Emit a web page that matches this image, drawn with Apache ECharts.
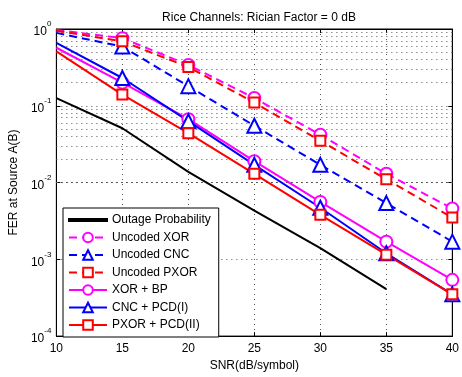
<!DOCTYPE html>
<html><head><meta charset="utf-8">
<script src="https://cdn.jsdelivr.net/npm/echarts@6/dist/echarts.min.js"></script>
<style>html,body{margin:0;padding:0;background:#fff}#c{width:462px;height:377px}</style>
</head><body><div id="c"></div>
<script>
const snr = [10, 15, 20, 25, 30, 35, 40];
const outage = [0.126, 0.051, 0.0138, 0.0043, 0.0014, 0.00041];
const uncodedXOR = [0.97, 0.76, 0.34, 0.126, 0.042, 0.013, 0.0046];
const uncodedCNC = [0.89, 0.59, 0.18, 0.055, 0.017, 0.0054, 0.0017];
const uncodedPXOR = [0.95, 0.69, 0.32, 0.11, 0.035, 0.011, 0.0035];
const xorBP = [0.57, 0.2, 0.067, 0.019, 0.0056, 0.0017, 0.00054];
const cncPCD = [0.66, 0.23, 0.063, 0.017, 0.0047, 0.0012, 0.00035];
const pxorPCD = [0.51, 0.14, 0.044, 0.013, 0.0038, 0.00115, 0.00035];
const minorGrid = [];
for (let e = -4; e < 0; e++) for (let k = 2; k <= 9; k++) minorGrid.push(k * Math.pow(10, e));

const FONT = 'Liberation Sans';
function pairs(ys) {
  return ys.map((v, i) => i === 0 ? { value: [snr[i], v], symbol: 'none' } : [snr[i], v]);
}
function mk(name, ys, color, dashed, symbol, size) {
  return {
    name, type: 'line', data: pairs(ys), symbol, symbolSize: size,
    lineStyle: { color, width: 2, type: dashed ? [8, 5] : 'solid' },
    itemStyle: { color, borderColor: color, borderWidth: 2 },
    emphasis: { disabled: true }, z: 3
  };
}
const series = [
  Object.assign(mk('Outage Probability', outage, '#000', false, 'none', 0), {
    markLine: {
      silent: true, symbol: 'none', label: { show: false },
      lineStyle: { color: '#555', width: 1, type: [1, 4] },
      data: minorGrid.map(v => ({ yAxis: v })), z: 1
    }
  }),
  mk('Uncoded XOR', uncodedXOR, '#ff00ff', true, 'emptyCircle', 12),
  mk('Uncoded CNC', uncodedCNC, '#0000ff', true, 'emptyTriangle', 14),
  mk('Uncoded PXOR', uncodedPXOR, '#ff0000', true, 'emptyRect', 10),
  mk('XOR + BP', xorBP, '#ff00ff', false, 'emptyCircle', 12),
  mk('CNC + PCD(I)', cncPCD, '#0000ff', false, 'emptyTriangle', 14),
  mk('PXOR + PCD(II)', pxorPCD, '#ff0000', false, 'emptyRect', 10)
];
const legendData = series.map(s => s.name === 'Outage Probability'
  ? { name: s.name, icon: 'path://M0,5 L38,5 L38,7.2 L0,7.2 Z', itemStyle: { color: '#000' } }
  : { name: s.name });
const chart = echarts.init(document.getElementById('c'), null, { renderer: 'canvas' });
const gridLine = { show: true, lineStyle: { color: '#555', width: 1, type: [1, 4] } };
chart.setOption({
  animation: false,
  textStyle: { fontFamily: FONT },
  title: { text: 'Rice Channels: Rician Factor = 0 dB', left: 254, top: 7, textAlign: 'center',
    textStyle: { fontSize: 12, fontWeight: 'normal', color: '#000', fontFamily: FONT } },
  grid: { left: 53, right: 7, top: 29, bottom: 32, show: true, borderColor: '#000', borderWidth: 1 },
  legend: {
    orient: 'vertical', left: 63, top: 208, itemWidth: 38, itemHeight: 12, itemGap: 5.5,
    padding: [6, 8, 6, 5], backgroundColor: '#fff', borderColor: '#000', borderWidth: 1,
    textStyle: { fontSize: 12, color: '#000', fontFamily: FONT }, z: 10,
    data: legendData
  },
  xAxis: [{
    type: 'value', min: 10, max: 40, interval: 5,
    name: 'SNR(dB/symbol)', nameLocation: 'middle', nameGap: 20,
    nameTextStyle: { fontSize: 12, color: '#000' },
    axisLine: { lineStyle: { color: '#000' } },
    axisTick: { inside: true, length: 4, lineStyle: { color: '#000' } },
    axisLabel: { fontSize: 12, color: '#000', margin: 7 },
    splitLine: gridLine
  }, {
    type: 'value', min: 10, max: 40, interval: 5, position: 'top',
    axisLine: { lineStyle: { color: '#000' } },
    axisTick: { inside: true, length: 4, lineStyle: { color: '#000' } },
    axisLabel: { show: false }, splitLine: { show: false }
  }],
  yAxis: [{
    type: 'log', min: 1e-4, max: 1, logBase: 10,
    name: 'FER at Source A(B)', nameLocation: 'middle', nameGap: 34,
    nameTextStyle: { fontSize: 12, color: '#000' },
    axisLine: { lineStyle: { color: '#000' } },
    axisTick: { inside: true, length: 4, lineStyle: { color: '#000' } },
    axisLabel: {
      margin: 5,
      formatter: v => '{b|10}{s|' + Math.round(Math.log10(v)) + '}',
      rich: { b: { fontSize: 12, color: '#000', fontFamily: FONT, lineHeight: 18, verticalAlign: 'bottom' },
              s: { fontSize: 8, color: '#000', fontFamily: FONT, lineHeight: 9, verticalAlign: 'top' } }
    },
    splitLine: gridLine
  }, {
    type: 'log', min: 1e-4, max: 1, logBase: 10, position: 'right',
    axisLine: { lineStyle: { color: '#000' } },
    axisTick: { inside: true, length: 4, lineStyle: { color: '#000' } },
    axisLabel: { show: false }, splitLine: { show: false }
  }],
  series
});
</script></body></html>
